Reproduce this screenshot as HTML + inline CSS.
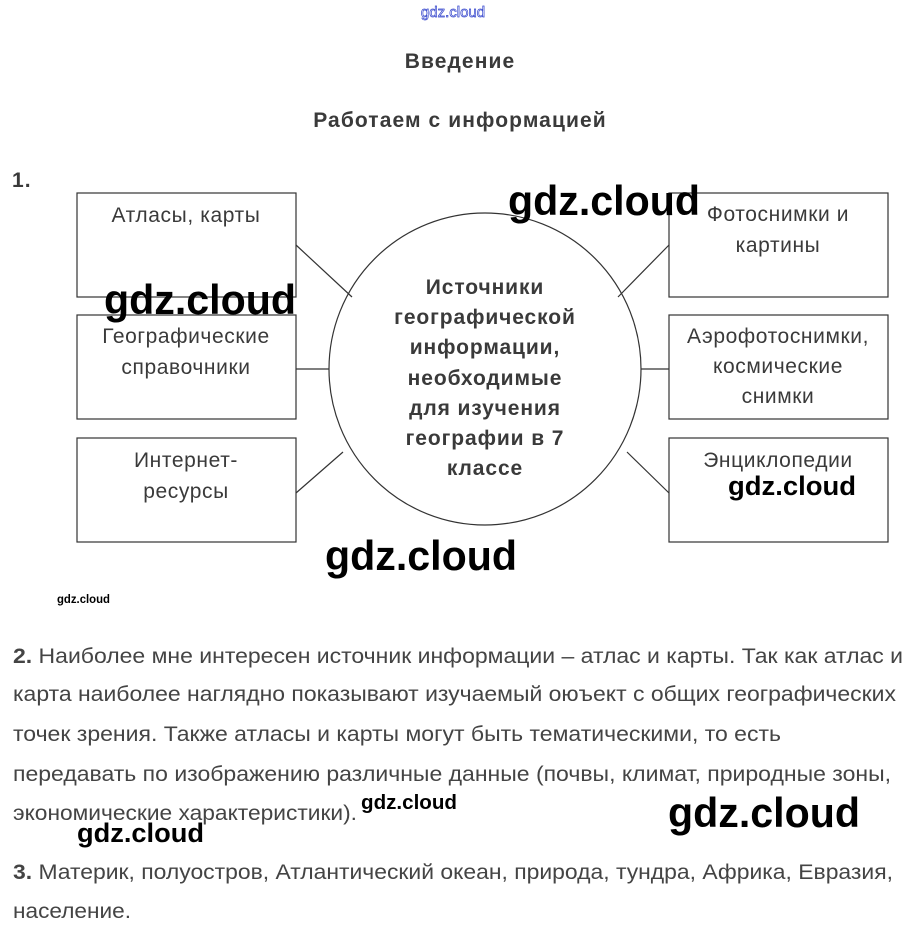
<!DOCTYPE html>
<html><head><meta charset="utf-8"><style>
html,body{margin:0;padding:0;background:#fff;}
svg{display:block;}
.b{font-family:"Liberation Sans",sans-serif;font-size:21px;letter-spacing:0.6px;fill:#3a3a3a;text-anchor:middle;}
.c{font-family:"Liberation Sans",sans-serif;font-size:21px;letter-spacing:0.9px;font-weight:bold;fill:#3a3a3a;text-anchor:middle;}
.t{font-family:"Liberation Sans",sans-serif;font-size:21px;letter-spacing:1.1px;font-weight:bold;fill:#3a3a3a;text-anchor:middle;}
.p{font-family:"Liberation Sans",sans-serif;font-size:21px;fill:#444;}
.w{font-family:"Liberation Sans",sans-serif;font-weight:bold;fill:#000;}
</style></head><body>
<svg width="907" height="928" viewBox="0 0 907 928" xmlns="http://www.w3.org/2000/svg">
<text x="453" y="17" font-family="Liberation Sans,sans-serif" font-size="15" fill="none" stroke="#3344cc" stroke-width="0.7" text-anchor="middle">gdz.cloud</text>
<text x="460" y="68" class="t">Введение</text>
<text x="460" y="127" class="t">Работаем с информацией</text>
<text x="12" y="187" class="t" style="text-anchor:start">1.</text>

<g fill="none" stroke="#333" stroke-width="1.2">
<rect x="77" y="193" width="219" height="104"/>
<rect x="77" y="315" width="219" height="104"/>
<rect x="77" y="438" width="219" height="104"/>
<rect x="669" y="193" width="219" height="104"/>
<rect x="669" y="315" width="219" height="104"/>
<rect x="669" y="438" width="219" height="104"/>
<circle cx="485" cy="369" r="156"/>
<line x1="296" y1="245" x2="352" y2="297"/>
<line x1="296" y1="369" x2="329" y2="369"/>
<line x1="296" y1="493" x2="343" y2="452"/>
<line x1="669" y1="245" x2="618" y2="297"/>
<line x1="641" y1="369" x2="669" y2="369"/>
<line x1="669" y1="493" x2="627" y2="452"/>
</g>

<text x="186" y="222" class="b">Атласы, карты</text>
<text x="186" y="343" class="b">Географические</text>
<text x="186" y="374" class="b">справочники</text>
<text x="186" y="467" class="b">Интернет-</text>
<text x="186" y="498" class="b">ресурсы</text>
<text x="778" y="221" class="b">Фотоснимки и</text>
<text x="778" y="252" class="b">картины</text>
<text x="778" y="343" class="b">Аэрофотоснимки,</text>
<text x="778" y="373" class="b">космические</text>
<text x="778" y="403" class="b">снимки</text>
<text x="778" y="467" class="b">Энциклопедии</text>

<text x="485" y="294" class="c">Источники</text>
<text x="485" y="324" class="c">географической</text>
<text x="485" y="354" class="c">информации,</text>
<text x="485" y="385" class="c">необходимые</text>
<text x="485" y="415" class="c">для изучения</text>
<text x="485" y="445" class="c">географии в 7</text>
<text x="485" y="475" class="c">классе</text>

<text x="13" y="663" class="p" textLength="890" lengthAdjust="spacingAndGlyphs"><tspan font-weight="bold">2.</tspan> Наиболее мне интересен источник информации – атлас и карты. Так как атлас и</text>
<text x="13" y="701" class="p" textLength="883" lengthAdjust="spacingAndGlyphs">карта наиболее наглядно показывают изучаемый оюъект с общих географических</text>
<text x="13" y="741" class="p" textLength="768" lengthAdjust="spacingAndGlyphs">точек зрения. Также атласы и карты могут быть тематическими, то есть</text>
<text x="13" y="781" class="p" textLength="878" lengthAdjust="spacingAndGlyphs">передавать по изображению различные данные (почвы, климат, природные зоны,</text>
<text x="13" y="820" class="p" textLength="344" lengthAdjust="spacingAndGlyphs">экономические характеристики).</text>
<text x="13" y="879" class="p" textLength="880" lengthAdjust="spacingAndGlyphs"><tspan font-weight="bold">3.</tspan> Материк, полуостров, Атлантический океан, природа, тундра, Африка, Евразия,</text>
<text x="13" y="918" class="p" textLength="118" lengthAdjust="spacingAndGlyphs">население.</text>

<text x="508" y="215" class="w" font-size="42" textLength="192" lengthAdjust="spacingAndGlyphs">gdz.cloud</text>
<text x="104" y="314" class="w" font-size="42" textLength="192" lengthAdjust="spacingAndGlyphs">gdz.cloud</text>
<text x="325" y="570" class="w" font-size="42" textLength="192" lengthAdjust="spacingAndGlyphs">gdz.cloud</text>
<text x="668" y="827" class="w" font-size="42" textLength="192" lengthAdjust="spacingAndGlyphs">gdz.cloud</text>
<text x="728" y="495" class="w" font-size="27" textLength="128" lengthAdjust="spacingAndGlyphs">gdz.cloud</text>
<text x="77" y="842" class="w" font-size="27" textLength="127" lengthAdjust="spacingAndGlyphs">gdz.cloud</text>
<text x="361" y="809" class="w" font-size="20" textLength="96" lengthAdjust="spacingAndGlyphs">gdz.cloud</text>
<text x="57" y="603" class="w" font-size="12" textLength="53" lengthAdjust="spacingAndGlyphs">gdz.cloud</text>
</svg>
</body></html>
